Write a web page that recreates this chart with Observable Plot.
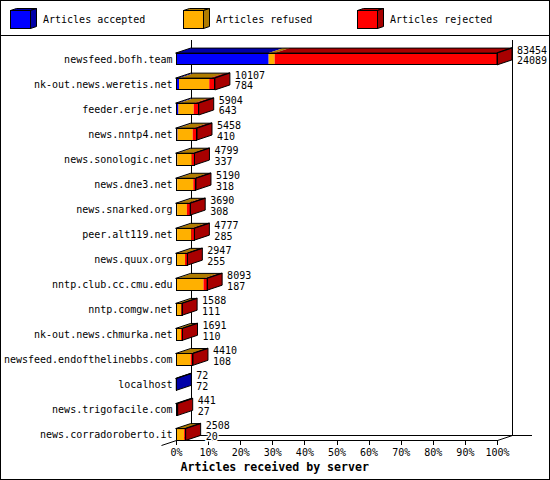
<!DOCTYPE html>
<html><head><meta charset="utf-8">
<script src="https://cdn.jsdelivr.net/npm/d3@7"></script>
<script src="https://cdn.jsdelivr.net/npm/@observablehq/plot@0.6"></script>
<style>
body{margin:0;background:#fff}
#wrap{width:550px;height:480px;border:1px solid #000;box-sizing:border-box;position:relative;background:#fff;overflow:hidden}
#legend{position:relative;height:34px;border-bottom:1px solid #000}
.item{position:absolute;top:0;height:34px}
.item svg{position:absolute;left:0;top:6px}
.item span{position:absolute;top:13px;font:10px "DejaVu Sans Mono",monospace;white-space:nowrap;line-height:12px;color:#000}
#chart svg{display:block}
</style></head><body>
<div id="wrap"><div id="legend"></div><div id="chart"></div></div>
<script>
// ---- data ----
const hosts = ["newsfeed.bofh.team","nk-out.news.weretis.net","feeder.erje.net","news.nntp4.net","news.sonologic.net","news.dne3.net","news.snarked.org","peer.alt119.net","news.quux.org","nntp.club.cc.cmu.edu","nntp.comgw.net","nk-out.news.chmurka.net","newsfeed.endofthelinebbs.com","localhost","news.trigofacile.com","news.corradoroberto.it"];
const offered  = [83454,10107,5904,5458,4799,5190,3690,4777,2947,8093,1588,1691,4410,72,441,2508];
const accepted = [24089,784,643,410,337,318,308,285,255,187,111,110,108,72,27,20];
const refused  = [1560,7863,3961,3928,3762,4172,2512,3712,2092,6966,1217,1191,3702,0,0,2088];
const rejected = [57805,1460,1300,1120,700,700,870,780,600,940,260,390,600,0,414,400];
const seriesNames = ["Articles accepted","Articles refused","Articles rejected"];
const frontColors = ["#0000ff","#ffb000","#ff0000"];
const darkColors  = ["#0000a8","#b07c00","#a80000"];
const tickValues = [0,10,20,30,40,50,60,70,80,90,100];
const axisTitle = "Articles received by server";

// ---- legend ----
const legend = d3.select("#legend");
const legendLeft = [9,182,356];
seriesNames.forEach((name,k)=>{
  const it = legend.append("div").attr("class","item").style("left",legendLeft[k]+"px");
  const s = it.append("svg").attr("width",30).attr("height",24);
  s.append("polygon").attr("points","0.5,3.5 20.5,3.5 26.5,1.5 6.5,1.5").attr("fill",darkColors[k]).attr("stroke","#000");
  s.append("polygon").attr("points","20.5,3.5 26.5,1.5 26.5,19.5 20.5,21.5").attr("fill",darkColors[k]).attr("stroke","#000");
  s.append("rect").attr("x",0.5).attr("y",3.5).attr("width",20).attr("height",18).attr("fill",frontColors[k]).attr("stroke","#000");
  it.append("span").style("left","33px").text(name);
});

// ---- geometry helpers (scale units) ----
const W = 548, Hh = 443, mL = 175, mR = 52, mT = 23, mB = 44.5;
const pxPerPct = (W - mL - mR) / 100;
const rowPx = (Hh - mT - mB) / 15;
const DX = 15 / pxPerPct;
const DY = 5 / rowPx;
const HB = 5.9 / rowPx;
const floorFront = (404 - mT) / rowPx;
const floorBack = floorFront - DY;
const wallTop = (4 - mT) / rowPx;
const maxTotal = d3.max(offered);
const pct = v => v / maxTotal * 100;

const fronts = [], tops = [], sides = [], frontOut = [], topOut = [], sideOut = [], labels = [];
hosts.forEach((h,i)=>{
  const vals = [accepted[i], refused[i], rejected[i]];
  const yT = i - HB, yB = i + HB;
  let c = 0, last = 0;
  vals.forEach((v,k)=>{
    if (v <= 0) return;
    const a = pct(c), b = pct(c + v); c += v; last = k;
    fronts.push({x1:a, x2:b, y1:yT, y2:yB, fill:frontColors[k]});
    const key = `t${i}-${k}`;
    tops.push({key, x1:a, y1:yT, x2:a+DX, y2:yT-DY, fill:darkColors[k]},
              {key, x1:b, y1:yT, x2:b+DX, y2:yT-DY, fill:darkColors[k]});
  });
  const X = pct(offered[i]);
  sides.push({key:`s${i}`, x1:X, y1:yT, x2:X+DX, y2:yT-DY, fill:darkColors[last]},
             {key:`s${i}`, x1:X, y1:yB, x2:X+DX, y2:yB-DY, fill:darkColors[last]});
  frontOut.push({x1:0, x2:X, y1:yT, y2:yB});
  topOut.push({key:`o${i}`, x1:0, y1:yT, x2:DX, y2:yT-DY}, {key:`o${i}`, x1:X, y1:yT, x2:X+DX, y2:yT-DY});
  sideOut.push({key:`p${i}`, x1:X, y1:yT, x2:X+DX, y2:yT-DY}, {key:`p${i}`, x1:X, y1:yB, x2:X+DX, y2:yB-DY});
  labels.push({x: X + DX + 1.4, y: i, top: String(offered[i]), bottom: String(accepted[i])});
});

const chart = Plot.plot({
  width: W, height: Hh,
  marginLeft: mL, marginRight: mR, marginTop: mT, marginBottom: mB,
  x: {domain: [0,100], axis: null},
  y: {domain: [0,15], reverse: true, axis: null},
  color: {type: "identity"},
  style: {fontFamily: "'DejaVu Sans Mono', monospace", fontSize: "10px", background: "white", overflow: "visible"},
  marks: [
    // back walls and floor
    Plot.ruleX([DX, 100 + DX], {x: d => d, y1: wallTop, y2: floorBack, stroke: "black", shapeRendering: "crispEdges"}),
    Plot.ruleY([floorBack], {y: d => d, x1: DX, x2: 110.9, stroke: "black", shapeRendering: "crispEdges"}),
    Plot.ruleY([floorFront], {y: d => d, x1: 0, x2: 100, stroke: "black", shapeRendering: "crispEdges"}),
    Plot.link([{a: -DX, b: floorFront + DY, c: DX, d: floorBack}, {a: 100, b: floorFront, c: 100 + DX, d: floorBack}],
      {x1: "a", y1: "b", x2: "c", y2: "d", stroke: "black"}),
    Plot.ruleX(tickValues, {x: d => d, y1: floorFront, y2: floorFront + 4.5 / rowPx, stroke: "black", shapeRendering: "crispEdges"}),
    Plot.text(tickValues, {x: d => d, y: floorFront + 12.5 / rowPx, text: d => d + "%", fill: "black"}),
    Plot.text([axisTitle], {x: 1.25, y: floorFront + 26.7 / rowPx, text: d => d, textAnchor: "start", fontWeight: "bold", fontSize: 11.6, fill: "black"}),
    // host names
    Plot.text(hosts, {x: -1.25, y: (d,i) => i, text: d => d, textAnchor: "end", fill: "black"}),
    // 3D bars
    Plot.area(tops, {x1: "x1", y1: "y1", x2: "x2", y2: "y2", z: "key", fill: "fill"}),
    Plot.area(sides, {x1: "x1", y1: "y1", x2: "x2", y2: "y2", z: "key", fill: "fill"}),
    Plot.rect(fronts, {x1: "x1", x2: "x2", y1: "y1", y2: "y2", fill: "fill"}),
    Plot.area(topOut, {x1: "x1", y1: "y1", x2: "x2", y2: "y2", z: "key", fill: "none", stroke: "black"}),
    Plot.area(sideOut, {x1: "x1", y1: "y1", x2: "x2", y2: "y2", z: "key", fill: "none", stroke: "black"}),
    Plot.rect(frontOut, {x1: "x1", x2: "x2", y1: "y1", y2: "y2", fill: "none", stroke: "black", shapeRendering: "crispEdges"}),
    // value labels
    Plot.text(labels, {x: "x", y: d => d.y - 9.2 / rowPx, text: "top", textAnchor: "start", fill: "black", stroke: "white", strokeWidth: 3}),
    Plot.text(labels, {x: "x", y: d => d.y + 1.7 / rowPx, text: "bottom", textAnchor: "start", fill: "black", stroke: "white", strokeWidth: 3})
  ]
});
document.getElementById("chart").appendChild(chart);
</script>
</body></html>
